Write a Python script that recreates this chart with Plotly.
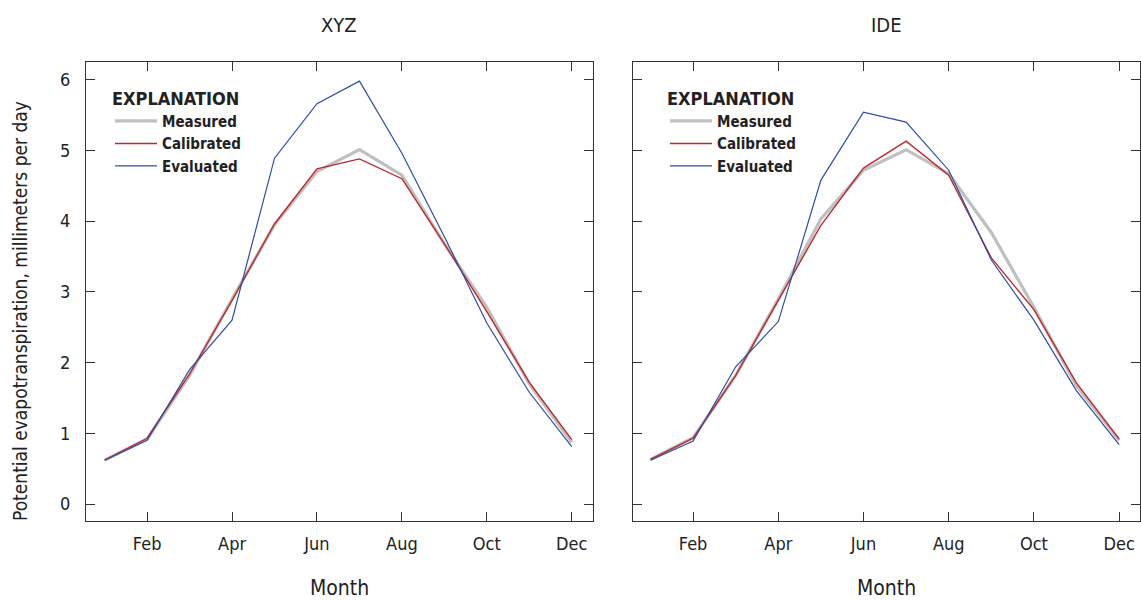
import plotly.graph_objects as go

months = list(range(1, 13))
tick_vals = [2, 4, 6, 8, 10, 12]
tick_text = ["Feb", "Apr", "Jun", "Aug", "Oct", "Dec"]
y_ticks = [0, 1, 2, 3, 4, 5, 6]

xyz_measured = [0.62, 0.92, 1.82, 2.90, 3.95, 4.70, 5.01, 4.65, 3.68, 2.78, 1.70, 0.87]
xyz_calibrated = [0.62, 0.93, 1.84, 2.88, 3.96, 4.74, 4.88, 4.60, 3.68, 2.72, 1.72, 0.91]
xyz_evaluated = [0.62, 0.90, 1.90, 2.60, 4.89, 5.66, 5.98, 4.96, 3.78, 2.56, 1.58, 0.81]

ide_measured = [0.63, 0.94, 1.82, 2.90, 4.03, 4.72, 5.01, 4.67, 3.84, 2.78, 1.67, 0.90]
ide_calibrated = [0.63, 0.93, 1.82, 2.88, 3.94, 4.75, 5.13, 4.65, 3.48, 2.75, 1.71, 0.92]
ide_evaluated = [0.62, 0.89, 1.94, 2.58, 4.58, 5.54, 5.40, 4.72, 3.45, 2.60, 1.60, 0.84]

FONT = "DejaVu Sans Condensed, Liberation Sans Narrow, sans-serif"
GRAY = "#c0c0c0"
RED = "#c1272d"
BLUE = "#2d4ea3"

fig = go.Figure()

series = [
    ("Measured", GRAY, 3.2),
    ("Calibrated", RED, 1.4),
    ("Evaluated", BLUE, 1.2),
]
panels = [
    ("x", "y", "legend", [xyz_measured, xyz_calibrated, xyz_evaluated]),
    ("x2", "y2", "legend2", [ide_measured, ide_calibrated, ide_evaluated]),
]
for xa, ya, lg, data in panels:
    for (name, color, width), vals in zip(series, data):
        fig.add_trace(go.Scatter(
            x=months, y=vals, mode="lines", name=name,
            line=dict(color=color, width=width),
            xaxis=xa, yaxis=ya, legend=lg,
        ))

axis_common = dict(
    showline=True, linecolor="#333333", linewidth=1.2, mirror="allticks",
    ticks="inside", ticklen=9, tickcolor="#333333", tickwidth=1.2,
    showgrid=False, zeroline=False,
    tickfont=dict(family=FONT, size=18, color="#222222"),
)

legend_common = dict(
    xanchor="left", yanchor="top",
    bgcolor="rgba(0,0,0,0)", borderwidth=0, tracegroupgap=0,
    title=dict(text="<b>EXPLANATION</b>", side="top",
               font=dict(family=FONT, size=18, color="#222222")),
    font=dict(family=FONT, size=15, color="#222222", weight="bold"),
    itemwidth=42,
)

fig.update_layout(
    width=1141, height=601,
    margin=dict(l=86, r=1, t=62, b=80),
    paper_bgcolor="white", plot_bgcolor="white",
    font=dict(family=FONT, color="#222222"),
    xaxis=dict(domain=[0, 0.481], range=[0.56, 12.5], tickvals=tick_vals,
               ticktext=tick_text, ticklabelstandoff=6, anchor="y", **axis_common),
    xaxis2=dict(domain=[0.519, 1], range=[0.59, 12.49], tickvals=tick_vals,
                ticktext=tick_text, ticklabelstandoff=6, anchor="y2", **axis_common),
    yaxis=dict(range=[-0.24, 6.25], tickvals=y_ticks, ticklabelstandoff=11,
               anchor="x", **axis_common),
    yaxis2=dict(range=[-0.24, 6.25], tickvals=y_ticks, showticklabels=False,
                anchor="x2", **axis_common),
    legend=dict(x=(110 - 86) / 1054, y=0.958, **legend_common),
    legend2=dict(x=(665 - 86) / 1054, y=0.958, **legend_common),
    showlegend=True,
)

ann = []
for ref, title in (("x domain", "XYZ"), ("x2 domain", "IDE")):
    ann.append(dict(text=title, xref=ref, yref="paper", x=0.5, y=1 + 37 / 459,
                    showarrow=False, font=dict(family=FONT, size=20, color="#222222"),
                    xanchor="center", yanchor="middle"))
    ann.append(dict(text="Month", xref=ref, yref="paper", x=0.5, y=-(588 - 521) / 459,
                    showarrow=False, font=dict(family=FONT, size=21, color="#222222"),
                    xanchor="center", yanchor="middle"))
ann.append(dict(text="Potential evapotranspiration, millimeters per day", xref="paper",
                yref="paper", x=-(86 - 20) / 1054, y=(521 - 311) / 459, textangle=-90,
                showarrow=False, font=dict(family=FONT, size=19, color="#222222"),
                xanchor="center", yanchor="middle"))
fig.update_layout(annotations=ann)

fig.write_html("out.html")
